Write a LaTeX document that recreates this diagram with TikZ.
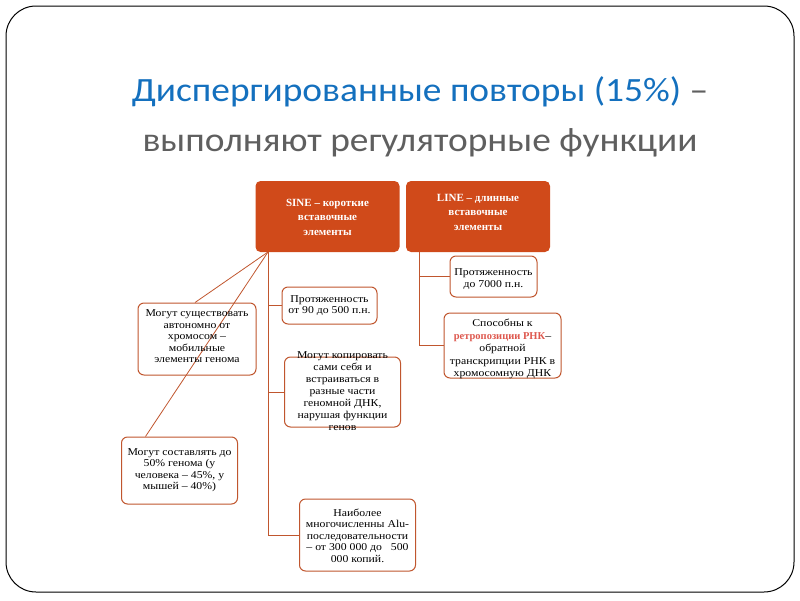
\documentclass[tikz,border=0pt]{standalone}
\usepackage{fontspec}
\setmainfont{Liberation Serif}
\newfontfamily\bodyfont{Liberation Serif}[FakeStretch=1.12]
\newfontfamily\titlefont{Carlito}[FakeStretch=1.1]
\definecolor{hdrfill}{RGB}{208,74,26}
\definecolor{bordc}{RGB}{192,86,46}
\definecolor{titleblue}{RGB}{20,112,190}
\definecolor{titlegray}{RGB}{95,95,95}
\definecolor{hilite}{RGB}{222,88,78}
\tikzset{
  hdr/.style={fill=hdrfill, draw=none, rounded corners=5pt, inner sep=0pt},
  hdrtext/.style={text=white, font=\bfseries\fontsize{11}{14.5}\selectfont, align=center, inner sep=0pt},
  sbox/.style={draw=bordc, line width=1pt, rounded corners=6pt, inner sep=0pt, fill=white},
  stext/.style={font=\bodyfont\fontsize{10.5}{11.5}\selectfont, align=center, inner sep=0pt},
  ttext/.style={font=\titlefont\fontsize{34}{50}\selectfont, inner sep=0pt, anchor=base},
  conn/.style={draw=bordc, line width=0.8pt},
}
\begin{document}
\begin{tikzpicture}[x=1pt,y=-1pt]
\useasboundingbox (0,0) rectangle (800,600);
\draw[line width=1pt, rounded corners=30pt] (6,6) rectangle (794,592);

% title
\node[ttext] (title1) at (420,101) {\textcolor{titleblue}{Диспергированные повторы (15\%)} \textcolor{titlegray}{–}};
\node[ttext, text=titlegray] (title2) at (420,151) {выполняют регуляторные функции};

% headers
\node[hdr, minimum width=144, minimum height=71] (sine) at (327.5,216.5) {};
\node[hdrtext] at (327.5,217) {SINE – короткие\\вставочные\\элементы};
\node[hdr, minimum width=144, minimum height=71] (line) at (478,216.5) {};
\node[hdrtext] at (478,212) {LINE – длинные\\вставочные\\элементы};

% SINE boxes
\node[sbox, minimum width=118, minimum height=72] (b1) at (197,339) {};
\node[sbox, minimum width=95, minimum height=37] (b2) at (329.5,305.5) {};
\node[sbox, minimum width=116, minimum height=70] (b3) at (342.5,392) {};
\node[sbox, minimum width=116, minimum height=67] (b4) at (179.5,470.5) {};
\node[sbox, minimum width=116, minimum height=72] (b5) at (357.5,535) {};

% LINE boxes
\node[sbox, minimum width=87, minimum height=41] (l1) at (493.5,276.5) {};
\node[sbox, minimum width=117, minimum height=65] (l2) at (502.5,345.5) {};

% connectors
\coordinate (sa) at (268,252);
\coordinate (la) at (419,252);
\draw[conn] (sa) |- (b5.west);
\draw[conn] (sa) |- (b2.west);
\draw[conn] (sa) |- (b3.west);
\draw[conn] (sa) -- ([xshift=-2pt]b1.north);
\draw[conn] (la) |- (l2.west);
\draw[conn] (la) |- (l1.west);

% second diagonal runs over box b1
\draw[conn] (sa) -- ([xshift=-34pt]b4.north);

% texts
\node[stext] at (197,336.5) {Могут существовать\\автономно от\\хромосом –\\мобильные\\элементы генома};
\node[stext] at (329.5,305.5) {Протяженность\\от 90 до 500 п.н.};
\node[stext, font=\bodyfont\fontsize{10.5}{12}\selectfont] at (342.5,391) {Могут копировать\\сами себя и\\встраиваться в\\разные части\\геномной ДНК,\\нарушая функции\\генов};
\node[stext] at (179.5,470) {Могут составлять до\\50\% генома (у\\человека – 45\%, у\\мышей – 40\%)};
\node[stext] at (357.5,535.5) {Наиболее\\многочисленны Alu-\\последовательности\\– от 300 000 до \ \ 500\\000 копий.};
\node[stext] at (493.5,279) {Протяженность\\до 7000 п.н.};
\node[stext, font=\bodyfont\fontsize{10.5}{12.6}\selectfont] at (502.5,349) {Способны к\\\textcolor{hilite}{\normalfont\fontsize{10.5}{12.6}\selectfont\bfseries ретропозиции РНК}–\\обратной\\транскрипции РНК в\\хромосомную ДНК};
\end{tikzpicture}
\end{document}
